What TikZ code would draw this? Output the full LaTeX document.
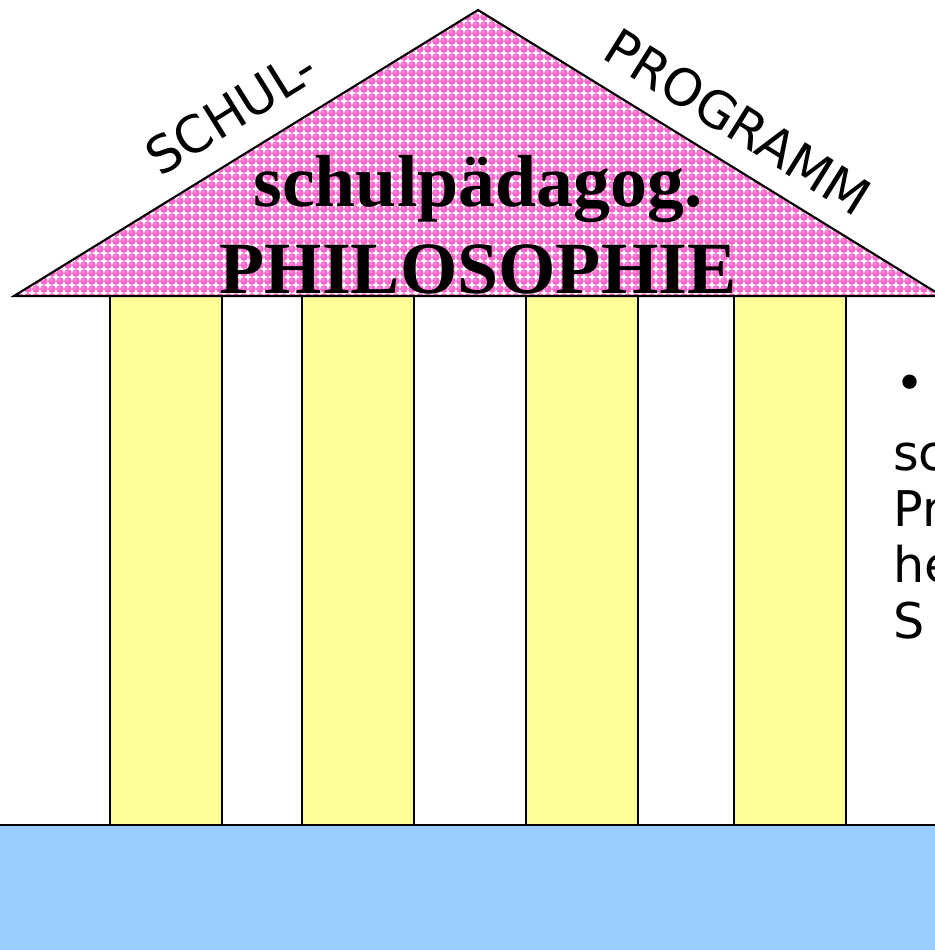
\documentclass[tikz,border=0pt]{standalone}
\usepackage{fontspec}
\setmainfont{Liberation Serif}
\newfontfamily\comicfont{DejaVu Sans}
\usetikzlibrary{patterns}
\definecolor{roofpink}{RGB}{255,102,204}
\definecolor{rooflight}{RGB}{255,175,232}
\definecolor{pillarbg}{RGB}{255,255,153}
\definecolor{groundbg}{RGB}{153,204,255}

% pink bubbles on white, as on the roof
\pgfdeclarepatterninherentlycolored{bubbles}
  {\pgfqpoint{0pt}{0pt}}{\pgfqpoint{4.8pt}{4.8pt}}{\pgfqpoint{4.8pt}{4.8pt}}
  {\pgfsetfillcolor{white}
   \pgfpathrectangle{\pgfpointorigin}{\pgfqpoint{4.8pt}{4.8pt}}\pgfusepath{fill}
   \pgfsetfillcolor{roofpink}
   \pgfpathcircle{\pgfqpoint{2.4pt}{2.4pt}}{2.3pt}\pgfusepath{fill}
   \pgfsetfillcolor{rooflight}
   \pgfpathcircle{\pgfqpoint{1.9pt}{3.1pt}}{0.65pt}\pgfusepath{fill}}

\tikzset{
  pillar/.style={draw=black, line width=1.2pt, fill=pillarbg},
  rooflabel/.style={font=\comicfont\fontsize{29}{29}\selectfont},
  roofword/.style={font=\bfseries\fontsize{42}{42}\selectfont, anchor=base},
  sideline/.style={font=\comicfont\fontsize{28}{28}\selectfont, anchor=base west, inner sep=0pt}
}

\begin{document}
\begin{tikzpicture}[x=0.02cm, y=-0.02cm]
    \useasboundingbox (0,0) rectangle (935,950);
    \clip (0,0) rectangle (935,950);
    \fill[white] (0,0) rectangle (935,950);

    % ground
    \fill[groundbg] (0,825) rectangle (935,950);

    % pillars
    \draw[pillar] (110,296) rectangle (222,825);
    \draw[pillar] (302,296) rectangle (414,825);
    \draw[pillar] (526,296) rectangle (638,825);
    \draw[pillar] (734,296) rectangle (846,825);
    \draw[line width=1.2pt] (0,825) -- (935,825);

    % roof
    \draw[line width=1.2pt, pattern=bubbles] (14,296) -- (478,10) -- (942,296) -- cycle;

    \node[roofword] (paed) at (478,206) {schulpädagog.};
    \node[roofword] (philo) at (478,293) {PHILOSOPHIE};

    \node[rooflabel, rotate=32] (schul) at (231,112) {SCHUL-};
    \node[rooflabel, rotate=-32] (prog) at (738,122) {PROGRAMM};

    % text at the right edge
    \node[sideline] (bul) at (895,400) {•};
    \node[sideline] (l1) at (893,470) {sc};
    \node[sideline] (l2) at (893,526) {Pr};
    \node[sideline] (l3) at (893,582) {he};
    \node[sideline] (l4) at (893,638) {S};
\end{tikzpicture}
\end{document}
